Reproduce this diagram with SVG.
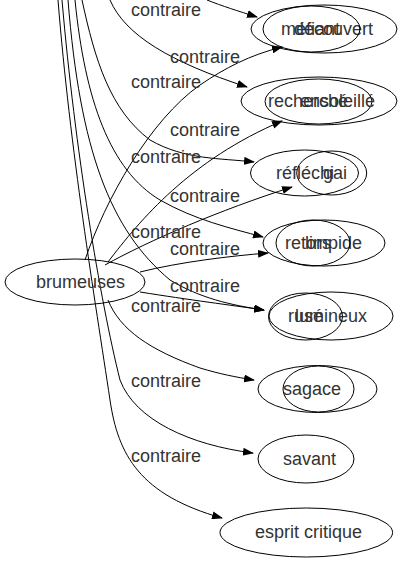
<svg xmlns="http://www.w3.org/2000/svg" width="408" height="563" viewBox="0 0 408 563">
<defs>
<marker id="ah" markerWidth="11" markerHeight="8" refX="10" refY="4" orient="auto" markerUnits="userSpaceOnUse">
<path d="M0,0 L11,4 L0,8 Z" fill="#000"/>
</marker>
<style>
.n ellipse{fill:none;stroke:#000;stroke-width:1}
.n text,.lb text{font-family:"Liberation Sans",Arial,sans-serif;font-size:18px;fill:#333}
.e path{fill:none;stroke:#000;stroke-width:1;marker-end:url(#ah)}
</style>
</defs>
<rect width="408" height="563" fill="#fff"/>
<g id="edges" class="e">
<path d="M207,0 C222,6 238,11 257,17"/>
<path d="M110,0 C125,35 170,62 247,87"/>
<path d="M85,260 C105,200 150,120 200,85 C225,68 250,55 282,47"/>
<path d="M108,262 C140,220 190,160 282,121"/>
<path d="M82,0 C95,60 110,110 150,140 C185,160 220,158 254,162"/>
<path d="M105,265 C150,240 220,210 292,187"/>
<path d="M75,0 C85,100 110,170 160,200 C195,220 230,228 263,237"/>
<path d="M140,272 C180,262 230,256 268,253"/>
<path d="M140,292 C190,300 230,305 264,310"/>
<path d="M68,0 C80,150 110,230 170,280 C200,298 230,305 264,310"/>
<path d="M108,300 C120,330 150,350 200,368 C220,374 235,377 254,380"/>
<path d="M62,0 C75,150 100,300 120,380 C135,420 190,445 253,453"/>
<path d="M58,0 C70,150 95,300 110,400 C118,455 140,495 222,518"/>
</g>
<g id="brumeuses" class="n"><ellipse cx="75" cy="282" rx="70" ry="23"/><text x="36" y="288">brumeuses</text></g>
<g id="decouvert" class="n"><ellipse cx="324" cy="29" rx="73" ry="24"/><text x="294" y="35">découvert</text></g>
<g id="mefiant" class="n"><ellipse cx="311.5" cy="29" rx="48.5" ry="23"/><text x="281" y="35">méfiant</text></g>
<g id="recherche" class="n"><ellipse cx="319" cy="101" rx="78" ry="24"/><text x="268" y="107">recherché</text></g>
<g id="ensoleille" class="n"><ellipse cx="318.5" cy="101.5" rx="53.5" ry="22.5"/><text x="300" y="107">ensoleillé</text></g>
<g id="reflechi" class="n"><ellipse cx="304.5" cy="173" rx="54" ry="23"/><text x="276" y="179">réfléchi</text></g>
<g id="gai" class="n"><ellipse cx="331.7" cy="173" rx="35" ry="22"/><text x="323" y="179">gai</text></g>
<g id="limpide" class="n"><ellipse cx="324" cy="243" rx="61" ry="23"/><text x="305" y="249">limpide</text></g>
<g id="retors" class="n"><ellipse cx="313" cy="243" rx="37" ry="23"/><text x="285" y="249">retors</text></g>
<g id="lumineux" class="n"><ellipse cx="331" cy="316" rx="62" ry="24"/><text x="295" y="322">lumineux</text></g>
<g id="ruse" class="n"><ellipse cx="305.5" cy="316.5" rx="37" ry="23.5"/><text x="288" y="322">rusé</text></g>
<g id="sagace" class="n"><ellipse cx="317.5" cy="389" rx="59.5" ry="23.5"/><text x="283" y="395">sagace</text></g>
<g id="sagace-2" class="n"><ellipse cx="318.5" cy="389" rx="35.5" ry="23"/></g>
<g id="savant" class="n"><ellipse cx="306" cy="459" rx="48" ry="24"/><text x="283" y="465">savant</text></g>
<g id="esprit-critique" class="n"><ellipse cx="306.3" cy="532.5" rx="86.3" ry="24.5"/><text x="255" y="538">esprit critique</text></g>
<g id="labels" class="lb">
<text x="131" y="16">contraire</text>
<text x="170" y="63">contraire</text>
<text x="131" y="88">contraire</text>
<text x="170" y="136">contraire</text>
<text x="131" y="163">contraire</text>
<text x="170" y="202">contraire</text>
<text x="131" y="238">contraire</text>
<text x="170" y="255">contraire</text>
<text x="170" y="292">contraire</text>
<text x="131" y="312">contraire</text>
<text x="131" y="387">contraire</text>
<text x="131" y="462">contraire</text>
</g>
</svg>
